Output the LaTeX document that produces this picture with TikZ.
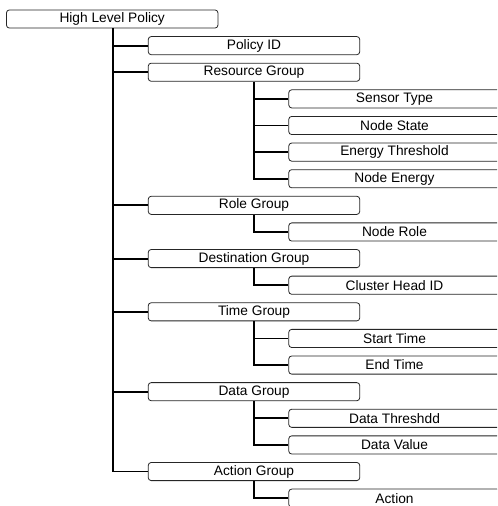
\documentclass[tikz,border=0pt]{standalone}
\usepackage{fontspec}
\setmainfont{Liberation Sans}
\begin{document}
\begin{tikzpicture}[x=0.75pt,y=-0.75pt,
  box/.style={draw=black!85,line width=0.6pt,fill=white,rounded corners=2.2pt,
    minimum width=158.6pt,minimum height=13.6pt,inner sep=0pt,
    font=\fontsize{10.3}{12}\selectfont},
  conn/.style={draw=black,line width=1.4pt}]
\useasboundingbox (0,0) rectangle (497,506);
\clip (0,0) rectangle (497,506);
\fill[white] (0,0) rectangle (497,506);
\def\dy{26.62}
% nodes
\node[box] (hlp) at (112.2,19) {High Level Policy};
\node[box] (pid) at (254,{19+1*\dy}) {Policy ID};
\node[box] (rg)  at (254,{19+2*\dy}) {Resource Group};
\node[box] (st)  at (394.5,{19+3*\dy}) {Sensor Type};
\node[box] (ns)  at (394.5,{19+4*\dy}) {Node State};
\node[box] (et)  at (394.5,{19+5*\dy}) {Energy Threshold};
\node[box] (ne)  at (394.5,{19+6*\dy}) {Node Energy};
\node[box] (rlg) at (254,{19+7*\dy}) {Role Group};
\node[box] (nr)  at (394.5,{19+8*\dy}) {Node Role};
\node[box] (dg)  at (254,{19+9*\dy}) {Destination Group};
\node[box] (ch)  at (394.5,{19+10*\dy}) {Cluster Head ID};
\node[box] (tg)  at (254,{19+11*\dy}) {Time Group};
\node[box] (stt) at (394.5,{19+12*\dy}) {Start Time};
\node[box] (ent) at (394.5,{19+13*\dy}) {End Time};
\node[box] (dtg) at (254,{19+14*\dy}) {Data Group};
\node[box] (dth) at (394.5,{19+15*\dy}) {Data Threshdd};
\node[box] (dv)  at (394.5,{19+16*\dy}) {Data Value};
\node[box] (ag)  at (254,{19+17*\dy}) {Action Group};
\node[box] (act) at (394.5,{19+18*\dy}) {Action};
\coordinate (t) at (113.3,0);
% trunk
\draw[conn] (hlp.south -| t) |- (ag.west);
\foreach \n in {pid,rg,rlg,dg,tg,dtg}{\draw[conn] (t |- \n.west) -- (\n.west);}
% resource group
\draw[conn] (rg.south) |- (ne.west);
\foreach \n in {st,ns,et}{\draw[conn] (rg.south |- \n.west) -- (\n.west);}
% role group
\draw[conn] (rlg.south) |- (nr.west);
% destination group
\draw[conn] (dg.south) |- (ch.west);
% time group
\draw[conn] (tg.south) |- (ent.west);
\draw[conn] (tg.south |- stt.west) -- (stt.west);
% data group
\draw[conn] (dtg.south) |- (dv.west);
\draw[conn] (dtg.south |- dth.west) -- (dth.west);
% action group
\draw[conn] (ag.south) |- (act.west);
\end{tikzpicture}
\end{document}
